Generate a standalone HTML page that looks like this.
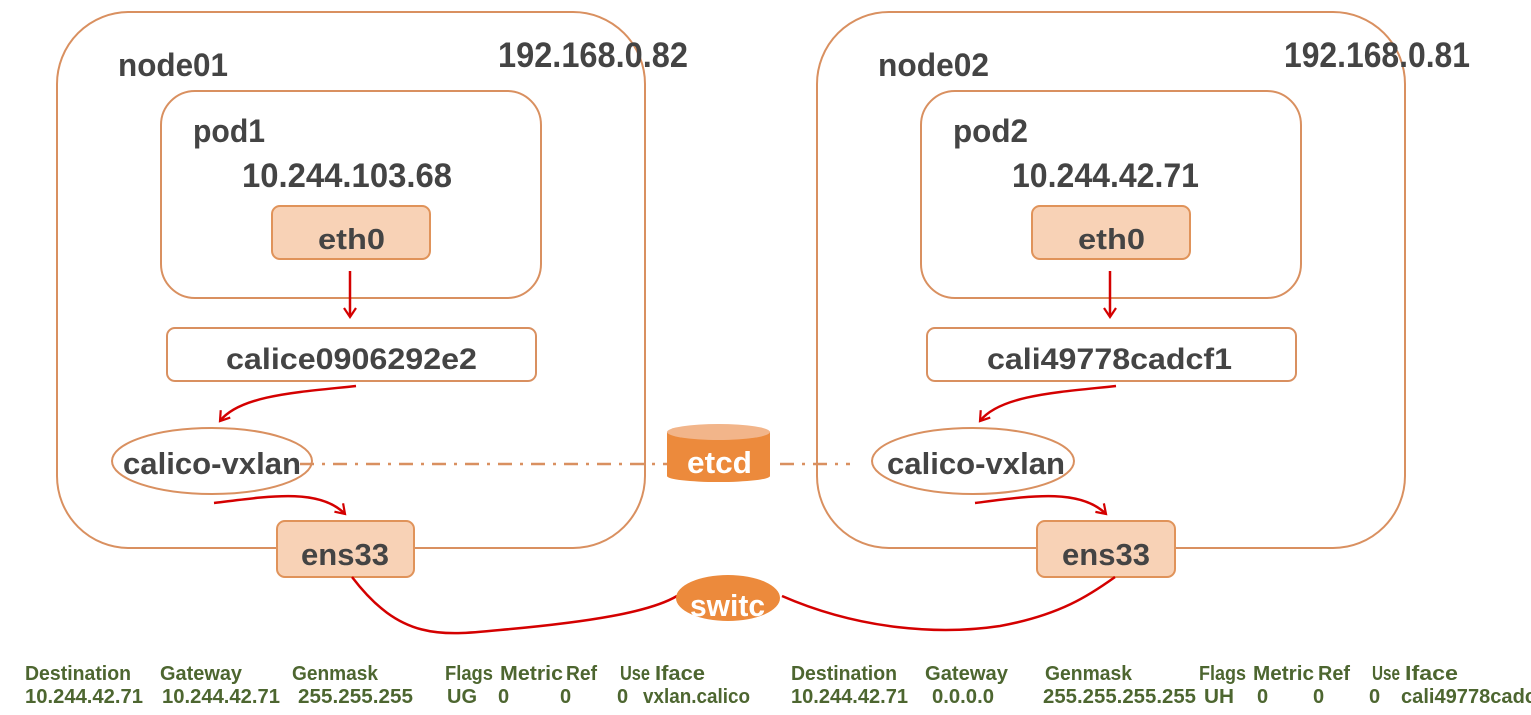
<!DOCTYPE html>
<html><head><meta charset="utf-8"><style>
html,body{margin:0;padding:0;background:#fff;}
svg{display:block;}
text{font-family:"Liberation Sans",sans-serif;}
.t{fill:#444;font-weight:bold;}
.g{fill:#4d6630;font-weight:bold;font-size:20px;}
</style></head><body>
<svg width="1531" height="715" viewBox="0 0 1531 715" xmlns="http://www.w3.org/2000/svg">
<defs>
<marker id="ah" markerWidth="14" markerHeight="14" refX="10" refY="7" orient="auto" markerUnits="userSpaceOnUse">
<path d="M1,1 L10,7 L1,13" fill="none" stroke="#d40000" stroke-width="2.2"/>
</marker>
</defs>
<rect x="57" y="12" width="588" height="536" rx="72" fill="none" stroke="#d99060" stroke-width="2"/>
<rect x="817" y="12" width="588" height="536" rx="72" fill="none" stroke="#d99060" stroke-width="2"/>
<rect x="161" y="91" width="380" height="207" rx="34" fill="none" stroke="#d99060" stroke-width="2"/>
<rect x="921" y="91" width="380" height="207" rx="34" fill="none" stroke="#d99060" stroke-width="2"/>

<text class="t" x="118" y="76" font-size="32" textLength="110" lengthAdjust="spacingAndGlyphs">node01</text>
<text class="t" x="498" y="67" font-size="35" textLength="190" lengthAdjust="spacingAndGlyphs">192.168.0.82</text>
<text class="t" x="193" y="142" font-size="32" textLength="72" lengthAdjust="spacingAndGlyphs">pod1</text>
<text class="t" x="242" y="187" font-size="34" textLength="210" lengthAdjust="spacingAndGlyphs">10.244.103.68</text>

<text class="t" x="878" y="76" font-size="32" textLength="111" lengthAdjust="spacingAndGlyphs">node02</text>
<text class="t" x="1284" y="67" font-size="35" textLength="186" lengthAdjust="spacingAndGlyphs">192.168.0.81</text>
<text class="t" x="953" y="142" font-size="32" textLength="75" lengthAdjust="spacingAndGlyphs">pod2</text>
<text class="t" x="1012" y="187" font-size="34" textLength="187" lengthAdjust="spacingAndGlyphs">10.244.42.71</text>

<rect x="272" y="206" width="158" height="53" rx="8" fill="#f8d2b6" stroke="#e0935a" stroke-width="2"/>
<text class="t" x="318" y="249" font-size="29" textLength="67" lengthAdjust="spacingAndGlyphs">eth0</text>
<rect x="1032" y="206" width="158" height="53" rx="8" fill="#f8d2b6" stroke="#e0935a" stroke-width="2"/>
<text class="t" x="1078" y="249" font-size="29" textLength="67" lengthAdjust="spacingAndGlyphs">eth0</text>

<line x1="350" y1="271" x2="350" y2="317" stroke="#d40000" stroke-width="2.5" marker-end="url(#ah)"/>
<line x1="1110" y1="271" x2="1110" y2="317" stroke="#d40000" stroke-width="2.5" marker-end="url(#ah)"/>

<rect x="167" y="328" width="369" height="53" rx="8" fill="#fff" stroke="#d99060" stroke-width="2"/>
<text class="t" x="226" y="369" font-size="30" textLength="251" lengthAdjust="spacingAndGlyphs">calice0906292e2</text>
<rect x="927" y="328" width="369" height="53" rx="8" fill="#fff" stroke="#d99060" stroke-width="2"/>
<text class="t" x="987" y="369" font-size="30" textLength="245" lengthAdjust="spacingAndGlyphs">cali49778cadcf1</text>

<path d="M356,386 C300,392 240,395 220,421" fill="none" stroke="#d40000" stroke-width="2.5" marker-end="url(#ah)"/>
<path d="M1116,386 C1060,392 1000,395 980,421" fill="none" stroke="#d40000" stroke-width="2.5" marker-end="url(#ah)"/>

<line x1="300" y1="464" x2="667" y2="464" stroke="#d99060" stroke-width="2.5" stroke-dasharray="14,8,3,8"/>
<line x1="780" y1="464" x2="850" y2="464" stroke="#d99060" stroke-width="2.5" stroke-dasharray="14,8,3,8"/>

<ellipse cx="212" cy="461" rx="100" ry="33" fill="none" stroke="#d99060" stroke-width="2"/>
<text class="t" x="123" y="474" font-size="31" textLength="178" lengthAdjust="spacingAndGlyphs">calico-vxlan</text>
<ellipse cx="973" cy="461" rx="101" ry="33" fill="none" stroke="#d99060" stroke-width="2"/>
<text class="t" x="887" y="474" font-size="31" textLength="178" lengthAdjust="spacingAndGlyphs">calico-vxlan</text>

<path d="M667,432 L667,476 A51,6 0 0 0 770,476 L770,432 Z" fill="#ec8a3c"/>
<ellipse cx="718.5" cy="432" rx="51.5" ry="8" fill="#f2b58a"/>
<text x="687" y="473" font-size="31" font-weight="bold" fill="#fff" textLength="65" lengthAdjust="spacingAndGlyphs">etcd</text>

<path d="M214,503 C270,496 320,488 345,514" fill="none" stroke="#d40000" stroke-width="2.5" marker-end="url(#ah)"/>
<path d="M975,503 C1030,496 1080,488 1106,514" fill="none" stroke="#d40000" stroke-width="2.5" marker-end="url(#ah)"/>

<rect x="277" y="521" width="137" height="56" rx="8" fill="#f8d2b6" stroke="#e0935a" stroke-width="2"/>
<text class="t" x="301" y="565" font-size="31" textLength="88" lengthAdjust="spacingAndGlyphs">ens33</text>
<rect x="1037" y="521" width="138" height="56" rx="8" fill="#f8d2b6" stroke="#e0935a" stroke-width="2"/>
<text class="t" x="1062" y="565" font-size="31" textLength="88" lengthAdjust="spacingAndGlyphs">ens33</text>

<path d="M352,577 C400,640 440,636 500,630 C590,622 650,612 677,596" fill="none" stroke="#d40000" stroke-width="2.5"/>
<path d="M782,596 C860,630 940,635 1000,626 C1060,615 1090,595 1115,577" fill="none" stroke="#d40000" stroke-width="2.5"/>
<ellipse cx="728" cy="598" rx="52" ry="23" fill="#ec8a3c"/>
<text x="690" y="616" font-size="31" font-weight="bold" fill="#fff" textLength="75" lengthAdjust="spacingAndGlyphs">switc</text>

<g class="g">
<text x="25" y="680" textLength="106" lengthAdjust="spacingAndGlyphs">Destination</text>
<text x="160" y="680" textLength="82" lengthAdjust="spacingAndGlyphs">Gateway</text>
<text x="292" y="680" textLength="86" lengthAdjust="spacingAndGlyphs">Genmask</text>
<text x="445" y="680" textLength="48" lengthAdjust="spacingAndGlyphs">Flags</text>
<text x="500" y="680" textLength="63" lengthAdjust="spacingAndGlyphs">Metric</text>
<text x="566" y="680" textLength="31" lengthAdjust="spacingAndGlyphs">Ref</text>
<text x="620" y="680" textLength="30" lengthAdjust="spacingAndGlyphs">Use</text>
<text x="655" y="680" textLength="50" lengthAdjust="spacingAndGlyphs">Iface</text>
<text x="25" y="703" textLength="118" lengthAdjust="spacingAndGlyphs">10.244.42.71</text>
<text x="162" y="703" textLength="118" lengthAdjust="spacingAndGlyphs">10.244.42.71</text>
<text x="298" y="703" textLength="115" lengthAdjust="spacingAndGlyphs">255.255.255</text>
<text x="447" y="703" textLength="30" lengthAdjust="spacingAndGlyphs">UG</text>
<text x="498" y="703">0</text>
<text x="560" y="703">0</text>
<text x="617" y="703">0</text>
<text x="643" y="703" textLength="107" lengthAdjust="spacingAndGlyphs">vxlan.calico</text>

<text x="791" y="680" textLength="106" lengthAdjust="spacingAndGlyphs">Destination</text>
<text x="925" y="680" textLength="83" lengthAdjust="spacingAndGlyphs">Gateway</text>
<text x="1045" y="680" textLength="87" lengthAdjust="spacingAndGlyphs">Genmask</text>
<text x="1199" y="680" textLength="47" lengthAdjust="spacingAndGlyphs">Flags</text>
<text x="1253" y="680" textLength="61" lengthAdjust="spacingAndGlyphs">Metric</text>
<text x="1318" y="680" textLength="32" lengthAdjust="spacingAndGlyphs">Ref</text>
<text x="1372" y="680" textLength="28" lengthAdjust="spacingAndGlyphs">Use</text>
<text x="1405" y="680" textLength="53" lengthAdjust="spacingAndGlyphs">Iface</text>
<text x="791" y="703" textLength="117" lengthAdjust="spacingAndGlyphs">10.244.42.71</text>
<text x="932" y="703" textLength="62" lengthAdjust="spacingAndGlyphs">0.0.0.0</text>
<text x="1043" y="703" textLength="153" lengthAdjust="spacingAndGlyphs">255.255.255.255</text>
<text x="1204" y="703" textLength="30" lengthAdjust="spacingAndGlyphs">UH</text>
<text x="1257" y="703">0</text>
<text x="1313" y="703">0</text>
<text x="1369" y="703">0</text>
<text x="1401" y="703" textLength="135" lengthAdjust="spacingAndGlyphs">cali49778cadc</text>
</g>
</svg>
</body></html>
